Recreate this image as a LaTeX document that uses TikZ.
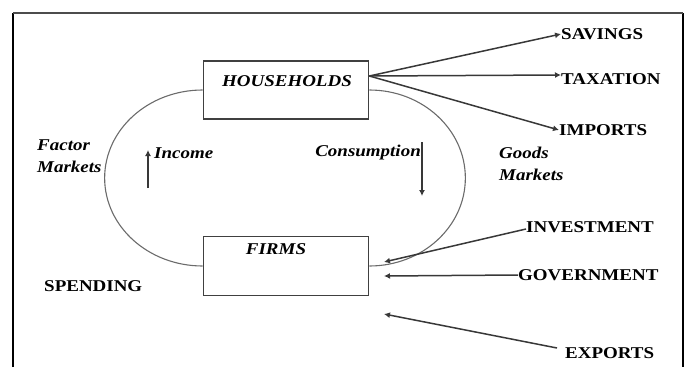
\documentclass[tikz,border=0pt]{standalone}
\usepackage{fontspec}
\setmainfont{Liberation Serif}[FakeStretch=1.15]
\usetikzlibrary{arrows.meta}
\begin{document}
\begin{tikzpicture}[x=1pt,y=-1pt,
  font=\fontsize{16.5}{22}\selectfont,
  boxst/.style={draw=black!75, line width=1.7pt, inner sep=0pt},
  lbl/.style={inner sep=0pt, font=\fontsize{16.5}{22}\selectfont\bfseries\itshape},
  capl/.style={inner sep=0pt, anchor=west, font=\fontsize{16.5}{22}\selectfont\bfseries},
  arr/.style={draw=black!78, line width=1.5pt, -{Latex[length=6pt,width=6pt]}},
  looparc/.style={draw=black!58, line width=1.1pt},
  framel/.style={draw=black, line width=2pt}]
\useasboundingbox (0,0) rectangle (688,367);
% frame
\draw[framel] (13,367) -- (13,13);
\draw[framel] (683,13) -- (683,367);
\draw[draw=black!70, line width=1.3pt] (13,13) -- (683,13);
% boxes
\node[boxst, minimum width=165pt, minimum height=58pt] (hh) at (286,90) {};
\node[lbl] (hht) at (287,81) {HOUSEHOLDS};
\node[boxst, minimum width=165pt, minimum height=59pt] (fi) at (286,266) {};
\node[lbl] (fit) at (276,249) {FIRMS};
% loops
\draw[looparc] (hh.west) arc[start angle=270, end angle=90, x radius=98, y radius=88];
\draw[looparc] (hh.east) arc[start angle=-90, end angle=90, x radius=96, y radius=88];
% left / inner labels
\node[lbl, anchor=west, align=left] (fac) at (37,156) {Factor\\Markets};
\node[lbl, anchor=west] (inc) at (154,153) {Income};
\node[lbl, anchor=east] (con) at (421,153) {Consumption};
\node[lbl, anchor=west, align=left] (goo) at (499,164) {Goods\\Markets};
\node[capl] (spe) at (44,286) {SPENDING};
\coordinate (incB) at (148,188);
\coordinate (incT) at (148,150);
\coordinate (conT) at (422,142);
\coordinate (conB) at (422,196);
\draw[arr] (incB) -- (incT);
\draw[arr] (conT) -- (conB);
% right labels
\node[capl] (sav) at (561,34) {SAVINGS};
\node[capl] (tax) at (561,79) {TAXATION};
\node[capl] (imp) at (559,130) {IMPORTS};
\node[capl] (inv) at (526,227) {INVESTMENT};
\node[capl] (gov) at (518,275) {GOVERNMENT};
\node[capl] (exp) at (565,353) {EXPORTS};
\coordinate (hout) at ([yshift=14pt]hh.east);
\draw[arr] (hout) -- (sav.west);
\draw[arr] (hout) -- ([yshift=4pt]tax.west);
\draw[arr] (hout) -- (imp.west);
\coordinate (invtip) at (384,262);
\coordinate (govtip) at (384,276);
\coordinate (exptip) at (384,314);
\draw[arr] ([yshift=-2pt]inv.west) -- (invtip);
\draw[arr] (gov.west) -- (govtip);
\draw[arr] ([xshift=-8pt,yshift=5pt]exp.west) -- (exptip);
\end{tikzpicture}
\end{document}
